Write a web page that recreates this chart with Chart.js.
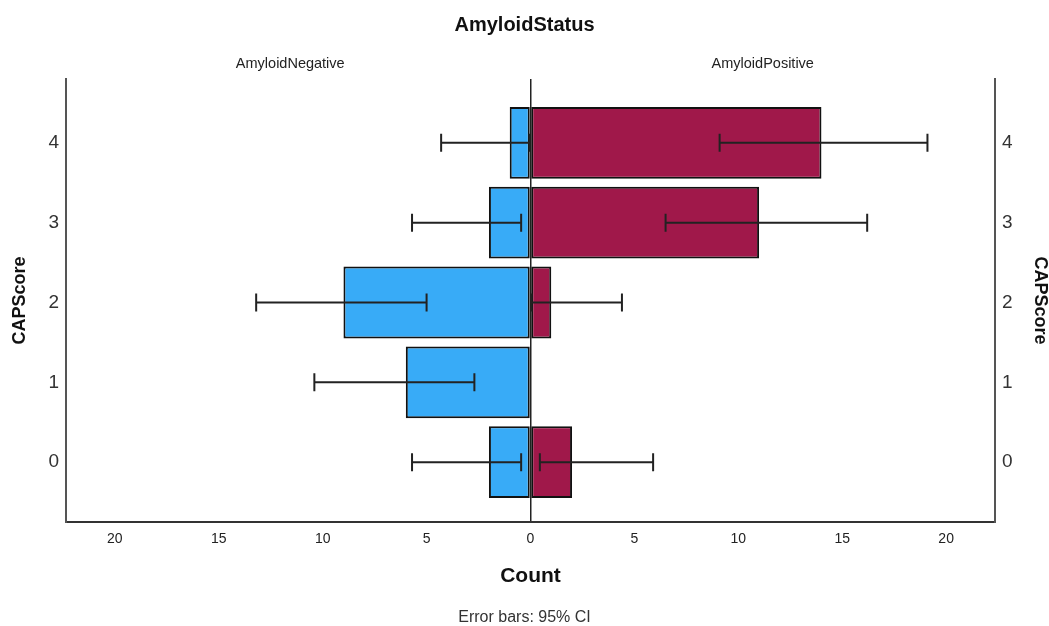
<!DOCTYPE html>
<html>
<head>
<meta charset="utf-8">
<script src="https://cdn.jsdelivr.net/npm/chart.js@4/dist/chart.umd.min.js"></script>
<style>
  html, body { margin: 0; padding: 0; background: #fff; }
  #wrap { width: 1049px; height: 626px; }
</style>
</head>
<body>
<div id="wrap"><canvas id="pyramidChart"></canvas></div>
<script>
// CAPScore rows, top to bottom
const scores = [4, 3, 2, 1, 0];
const groups = ['AmyloidNegative', 'AmyloidPositive'];
// counts per group
const negCounts = [1, 2, 9, 6, 2];
const posCounts = [14, 11, 1, 0, 2];
// 95% CI ends (counts)
const negLower = [0.05, 0.45, 5.0, 2.7, 0.45];
const negUpper = [4.3, 5.7, 13.2, 10.4, 5.7];
const posLower = [9.1, 6.5, 0.05, null, 0.45];
const posUpper = [19.1, 16.2, 4.4, null, 5.9];
const countTicks = [-20, -15, -10, -5, 0, 5, 10, 15, 20];

const FONT = "'Liberation Sans', Arial, sans-serif";
const INK = '#222';

// error bars drawn through the chart's own scales
const errorBars = {
    id: 'errorBars',
    afterDatasetsDraw(chart) {
        const { ctx, scales: { x, y } } = chart;
        const cap = 9;
        ctx.save();
        ctx.strokeStyle = INK;
        ctx.lineWidth = 2;
        const bar = (lo, hi, s) => {
            const py = y.getPixelForValue(s);
            const x1 = x.getPixelForValue(lo);
            const x2 = x.getPixelForValue(hi);
            ctx.beginPath();
            ctx.moveTo(x1, py); ctx.lineTo(x2, py);
            ctx.moveTo(x1, py - cap); ctx.lineTo(x1, py + cap);
            ctx.moveTo(x2, py - cap); ctx.lineTo(x2, py + cap);
            ctx.stroke();
        };
        scores.forEach((s, i) => {
            if (negLower[i] != null) bar(-negUpper[i], -negLower[i], s);
            if (posLower[i] != null) bar(posLower[i], posUpper[i], s);
        });
        ctx.restore();
    }
};

// panel labels above each half
const panelLabels = {
    id: 'panelLabels',
    afterDraw(chart) {
        const { ctx, chartArea, scales: { x } } = chart;
        const mid = x.getPixelForValue(0);
        ctx.save();
        ctx.font = '14.5px ' + FONT;
        ctx.fillStyle = INK;
        ctx.textAlign = 'center';
        ctx.textBaseline = 'middle';
        ctx.fillText(groups[0], (chartArea.left + mid) / 2 - 8, 64);
        ctx.fillText(groups[1], (mid + chartArea.right) / 2, 64);
        ctx.restore();
    }
};

const ctx = document.getElementById('pyramidChart').getContext('2d');
new Chart(ctx, {
    type: 'bar',
    data: {
        datasets: [
            {
                label: groups[0],
                data: scores.map((s, i) => ({ y: s, x: -negCounts[i] })),
                backgroundColor: '#38abf7',
                borderColor: '#111',
                borderWidth: 2,
                borderSkipped: false
            },
            {
                label: groups[1],
                data: scores.map((s, i) => ({ y: s, x: posCounts[i] || null })),
                backgroundColor: '#a0184a',
                borderColor: '#111',
                borderWidth: 2,
                borderSkipped: false
            }
        ]
    },
    options: {
        indexAxis: 'y',
        responsive: true,
        maintainAspectRatio: false,
        animation: false,
        categoryPercentage: 0.9,
        barPercentage: 1,
        layout: { padding: 0 },
        scales: {
            x: {
                type: 'linear',
                stacked: true,
                min: -22.35,
                max: 22.35,
                afterBuildTicks: (scale) => { scale.ticks = countTicks.map(v => ({ value: v })); },
                afterFit: (scale) => { scale.height = 88; },
                ticks: {
                    padding: 9,
                    color: INK,
                    font: { size: 14, family: FONT },
                    callback: (v) => Math.abs(v)
                },
                grid: {
                    drawTicks: false,
                    lineWidth: 1.5,
                    color: (c) => (c.tick && c.tick.value === 0 ? INK : 'rgba(0,0,0,0)')
                },
                border: { display: true, color: '#333', width: 2 },
                title: {
                    display: true,
                    text: 'Count',
                    color: '#111',
                    font: { size: 21, weight: 'bold', family: FONT },
                    padding: { top: 0, bottom: 21 }
                }
            },
            y: {
                type: 'linear',
                position: 'left',
                stacked: true,
                offset: false,
                min: -0.75,
                max: 4.8,
                afterFit: (scale) => { scale.width = 66; },
                ticks: {
                    stepSize: 1,
                    includeBounds: false,
                    padding: 7,
                    color: '#333',
                    font: { size: 19, family: FONT }
                },
                grid: { display: false, drawTicks: false, offset: false },
                border: { display: true, color: '#555', width: 2 },
                title: {
                    display: true,
                    text: 'CAPScore',
                    color: '#111',
                    font: { size: 18, weight: 'bold', family: FONT },
                    padding: { top: 9, bottom: 0 }
                }
            },
            y2: {
                type: 'linear',
                position: 'right',
                offset: false,
                min: -0.75,
                max: 4.8,
                afterFit: (scale) => { scale.width = 54; },
                ticks: {
                    stepSize: 1,
                    includeBounds: false,
                    padding: 7,
                    color: '#333',
                    font: { size: 19, family: FONT }
                },
                grid: { display: false, drawTicks: false, offset: false },
                border: { display: true, color: '#555', width: 2 },
                title: {
                    display: true,
                    text: 'CAPScore',
                    color: '#111',
                    font: { size: 18, weight: 'bold', family: FONT, lineHeight: 1 },
                    padding: { top: 0, bottom: 0 }
                }
            }
        },
        plugins: {
            legend: { display: false },
            tooltip: { enabled: false },
            title: {
                display: true,
                text: 'AmyloidStatus',
                color: '#111',
                font: { size: 20, weight: 'bold', family: FONT, lineHeight: 1.2 },
                padding: { top: 13, bottom: 42 }
            },
            subtitle: {
                display: true,
                position: 'bottom',
                text: 'Error bars: 95% CI',
                color: '#333',
                font: { size: 16, family: FONT, lineHeight: 1 },
                padding: { top: 0, bottom: 0 }
            }
        }
    },
    plugins: [errorBars, panelLabels]
});
</script>
</body>
</html>
